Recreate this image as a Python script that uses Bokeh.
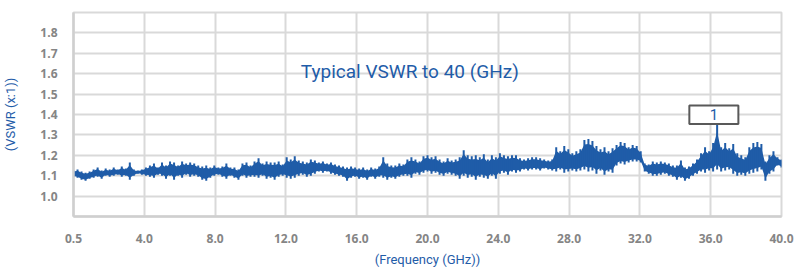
from bokeh.plotting import figure
from bokeh.models import Range1d, FixedTicker, Label, BoxAnnotation, NumeralTickFormatter
from bokeh.embed import file_html
from bokeh.resources import INLINE

# ---- data ----
freq_tick_labels = ["0.5", "4.0", "8.0", "12.0", "16.0", "20.0", "24.0", "28.0", "32.0", "36.0", "40.0"]
y_tick_values = [1.0, 1.1, 1.2, 1.3, 1.4, 1.5, 1.6, 1.7, 1.8]

# upper / lower envelope of the measured VSWR trace, sampled evenly along the category axis
vswr_hi = [
    1.125, 1.13, 1.12, 1.115, 1.12,
    1.13, 1.14, 1.125, 1.135, 1.13,
    1.14, 1.13, 1.145, 1.135, 1.165,
    1.13, 1.125, 1.13, 1.14, 1.15,
    1.16, 1.14, 1.165, 1.15, 1.17,
    1.165, 1.15, 1.17, 1.16, 1.165,
    1.16, 1.15, 1.145, 1.15, 1.14,
    1.15, 1.14, 1.145, 1.16, 1.14,
    1.14, 1.13, 1.16, 1.165, 1.15,
    1.17, 1.185, 1.16, 1.17, 1.165,
    1.165, 1.17, 1.155, 1.19, 1.18,
    1.195, 1.175, 1.17, 1.165, 1.18,
    1.175, 1.165, 1.17, 1.16, 1.165,
    1.155, 1.15, 1.145, 1.14, 1.145,
    1.14, 1.135, 1.14, 1.13, 1.14,
    1.135, 1.145, 1.19, 1.16, 1.15,
    1.15, 1.16, 1.155, 1.18, 1.19,
    1.18, 1.17, 1.195, 1.20, 1.19,
    1.195, 1.18, 1.17, 1.185, 1.175,
    1.18, 1.19, 1.225, 1.20, 1.195,
    1.20, 1.19, 1.205, 1.18, 1.20,
    1.19, 1.21, 1.20, 1.195, 1.20,
    1.20, 1.185, 1.18, 1.185, 1.19,
    1.19, 1.185, 1.18, 1.175, 1.18,
    1.24, 1.22, 1.245, 1.23, 1.21,
    1.22, 1.23, 1.275, 1.28, 1.27,
    1.245, 1.23, 1.24, 1.22, 1.235,
    1.25, 1.265, 1.26, 1.24, 1.25,
    1.245, 1.22, 1.16, 1.155, 1.17,
    1.165, 1.17, 1.165, 1.16, 1.15,
    1.15, 1.175, 1.14, 1.145, 1.16,
    1.18, 1.21, 1.24, 1.22, 1.26,
    1.35, 1.24, 1.26, 1.235, 1.255,
    1.21, 1.20, 1.19, 1.24, 1.26,
    1.265, 1.255, 1.17, 1.20, 1.22,
    1.19, 1.18,
]
vswr_lo = [
    1.095, 1.09, 1.08, 1.075, 1.085,
    1.09, 1.095, 1.085, 1.10, 1.095,
    1.10, 1.105, 1.095, 1.10, 1.08,
    1.10, 1.11, 1.105, 1.10, 1.095,
    1.09, 1.105, 1.10, 1.085, 1.10,
    1.08, 1.10, 1.09, 1.105, 1.095,
    1.10, 1.095, 1.08, 1.075, 1.09,
    1.10, 1.105, 1.095, 1.085, 1.10,
    1.09, 1.08, 1.10, 1.09, 1.095,
    1.095, 1.09, 1.10, 1.085, 1.09,
    1.08, 1.095, 1.10, 1.09, 1.085,
    1.09, 1.10, 1.105, 1.095, 1.10,
    1.11, 1.12, 1.115, 1.12, 1.11,
    1.105, 1.10, 1.095, 1.075, 1.09,
    1.095, 1.085, 1.09, 1.08, 1.095,
    1.085, 1.095, 1.09, 1.08, 1.09,
    1.085, 1.095, 1.10, 1.10, 1.09,
    1.11, 1.105, 1.115, 1.12, 1.11,
    1.115, 1.105, 1.10, 1.11, 1.105,
    1.10, 1.085, 1.10, 1.09, 1.095,
    1.08, 1.095, 1.09, 1.085, 1.10,
    1.085, 1.11, 1.115, 1.105, 1.12,
    1.115, 1.12, 1.13, 1.125, 1.13,
    1.13, 1.125, 1.135, 1.13, 1.125,
    1.12, 1.13, 1.115, 1.12, 1.125,
    1.12, 1.125, 1.13, 1.12, 1.125,
    1.11, 1.125, 1.105, 1.12, 1.115,
    1.15, 1.16, 1.155, 1.165, 1.17,
    1.17, 1.165, 1.12, 1.11, 1.10,
    1.10, 1.105, 1.11, 1.10, 1.095,
    1.08, 1.09, 1.075, 1.085, 1.10,
    1.11, 1.12, 1.115, 1.125, 1.12,
    1.13, 1.12, 1.125, 1.13, 1.11,
    1.10, 1.105, 1.10, 1.11, 1.115,
    1.12, 1.13, 1.075, 1.11, 1.12,
    1.15, 1.14,
]
marker_text = "1"
marker_index = 160

title_text = "Typical VSWR to 40 (GHz)"
x_title = "(Frequency (GHz))"
y_title = "(VSWR (x:1))"

# ---- build ----
BLUE = "#1f5ca8"
GRID = "#d9d9d9"
TICK_GRAY = "#858585"

n = len(vswr_hi)
span = 4 * (len(freq_tick_labels) - 1)  # category axis length in tick units
xpos = [i * span / (n - 1) for i in range(n)]
# dense core of the noisy trace (inner part of the envelope)
core_hi = [l + 0.85 * (h - l) for h, l in zip(vswr_hi, vswr_lo)]
core_lo = [l + 0.12 * (h - l) for h, l in zip(vswr_hi, vswr_lo)]

p = figure(width=796, height=269, output_backend="svg", toolbar_location=None,
           x_range=Range1d(0, span), y_range=Range1d(0.9, 1.9),
           min_border_left=73, min_border_right=15, min_border_top=12, min_border_bottom=50)

p.varea(x=xpos, y1=core_lo, y2=core_hi, fill_color=BLUE)
p.segment(x0=xpos, y0=vswr_lo, x1=xpos, y1=vswr_hi, line_width=2, line_color=BLUE)

x_ticks = [4 * k for k in range(len(freq_tick_labels))]
p.xaxis.ticker = FixedTicker(ticks=x_ticks)
p.xaxis.major_label_overrides = {t: lab for t, lab in zip(x_ticks, freq_tick_labels)}
p.xgrid.ticker = FixedTicker(ticks=x_ticks)
p.yaxis.ticker = FixedTicker(ticks=y_tick_values)
p.ygrid.ticker = FixedTicker(ticks=y_tick_values)
p.yaxis.formatter = NumeralTickFormatter(format="0.0")

for ax in (p.xaxis[0], p.yaxis[0]):
    ax.major_tick_line_color = None
    ax.minor_tick_line_color = None
    ax.axis_line_color = "#cfcfcf"
    ax.axis_line_width = 2.5
    ax.major_label_text_font = "Open Sans"
    ax.major_label_text_font_style = "bold"
    ax.major_label_text_font_size = "12px"
    ax.major_label_text_color = TICK_GRAY
    ax.axis_label_text_font = "Roboto"
    ax.axis_label_text_font_style = "normal"
    ax.axis_label_text_font_size = "13px"
    ax.axis_label_text_color = BLUE

p.xaxis.axis_label = x_title
p.yaxis.axis_label = y_title
p.xaxis.major_label_standoff = 11
p.xaxis.axis_label_standoff = 6
p.yaxis.major_label_standoff = 10
p.yaxis.axis_label_standoff = 19

p.xgrid.grid_line_color = GRID
p.ygrid.grid_line_color = GRID
p.xgrid.grid_line_width = 2
p.ygrid.grid_line_width = 2
p.outline_line_color = GRID
p.outline_line_width = 2
p.background_fill_color = "white"
p.border_fill_color = "white"

# title inside plot
p.add_layout(Label(x=19.0, y=1.612, text=title_text, text_align="center", text_baseline="middle",
                   text_font="Roboto", text_font_size="19px", text_color=BLUE))

# data label box at the peak
mx = xpos[marker_index]
my = vswr_hi[marker_index]
p.add_layout(BoxAnnotation(left=mx - 1.57, right=mx + 1.2, bottom=my + 0.003, top=my + 0.094,
                           fill_color="white", fill_alpha=1, line_color="#595959", line_alpha=1,
                           line_width=2))
p.add_layout(Label(x=mx - 0.18, y=my + 0.048, text=marker_text, text_align="center", text_baseline="middle",
                   text_font="Roboto", text_font_size="15px", text_color=BLUE))

open("out.html", "w").write(file_html(p, INLINE))
